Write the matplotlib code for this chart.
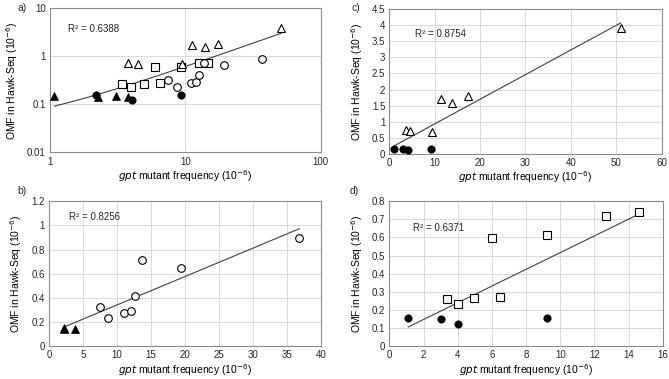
import numpy as np
import matplotlib as mpl
import matplotlib.pyplot as plt

mpl.rcParams.update({
    "font.family": ["Liberation Sans", "DejaVu Sans"],
    "font.size": 7,
    "text.color": "#262626",
    "xtick.color": "#262626",
    "ytick.color": "#262626",
})

# panel b: open circles / filled triangles
b_circ_x = [7.45, 8.75, 11.0, 12.0, 12.65, 13.65, 19.4, 36.8]
b_circ_y = [0.328, 0.232, 0.272, 0.293, 0.415, 0.710, 0.650, 0.893]
b_tri_x = [2.15, 2.25, 3.8]
b_tri_y = [0.153, 0.142, 0.140]

# panel c: open triangles / filled circles
c_tri_x = [3.75, 4.5, 9.4, 11.3, 13.9, 17.4, 51.0]
c_tri_y = [0.74, 0.70, 0.68, 1.71, 1.57, 1.80, 3.90]
c_dot_x = [1.1, 3.0, 4.0, 9.2]
c_dot_y = [0.155, 0.15, 0.12, 0.16]

# panel d: open squares / filled circles
d_sq_x = [3.4, 4.0, 4.95, 6.0, 6.45, 9.25, 12.7, 14.6]
d_sq_y = [0.262, 0.232, 0.268, 0.598, 0.272, 0.612, 0.718, 0.740]
d_dot_x = [1.1, 3.0, 4.0, 9.2]
d_dot_y = [0.155, 0.153, 0.123, 0.158]

# panel a: everything on log axes (filled marks as they appear there)
a_ftri_x = [1.08, 2.25, 3.07, 3.8]
a_ftri_y = [0.152, 0.142, 0.149, 0.140]
a_fdot_x = [2.2, 4.07, 9.3]
a_fdot_y = [0.157, 0.121, 0.158]

r2_text = {"a": "R² = 0.6388", "b": "R² = 0.8256",
           "c": "R² = 0.8754", "d": "R² = 0.6371"}

XLABEL = r"$\it{gpt}$ mutant frequency (10$^{-6}$)"
YLABEL = "OMF in Hawk-Seq (10$^{-6}$)"

GRID = "#d9d9d9"
FRAME = "#8c8c8c"
LINE = "#404040"


def style_axes(ax, xpad=1):
    ax.grid(True, color=GRID, linewidth=0.7)
    ax.set_axisbelow(True)
    ax.tick_params(length=0, pad=3, labelsize=7)
    for s in ax.spines.values():
        s.set_color(FRAME)
        s.set_linewidth(0.8)
    ax.set_xlabel(XLABEL, fontsize=7.5, labelpad=xpad)
    ax.set_ylabel(YLABEL, fontsize=7.5, labelpad=5)


def open_mark(ax, x, y, m, ms=5.5):
    ax.plot(x, y, m, ms=ms, mfc="white", mec="black", mew=0.8, ls="none", zorder=3)


def fill_mark(ax, x, y, m, ms=5.3):
    ax.plot(x, y, m, ms=ms, mfc="black", mec="black", mew=0.5, ls="none", zorder=3)


def trend(ax, xs, ys, n=200):
    xs = np.asarray(xs, float)
    ys = np.asarray(ys, float)
    k, c = np.polyfit(xs, ys, 1)
    xx = np.linspace(xs.min(), xs.max(), n)
    ax.plot(xx, k * xx + c, color=LINE, lw=0.8, zorder=2)


fig = plt.figure(figsize=(6.69, 3.79), dpi=100)

pos = {
    "a": [0.0747, 0.598, 0.4046, 0.380],
    "c": [0.582, 0.594, 0.407, 0.382],
    "b": [0.0732, 0.0863, 0.4066, 0.383],
    "d": [0.582, 0.0863, 0.4087, 0.383],
}

# ---- a) log-log, all data
ax = fig.add_axes(pos["a"])
open_mark(ax, d_sq_x, d_sq_y, "s")
open_mark(ax, b_circ_x, b_circ_y, "o")
open_mark(ax, c_tri_x, c_tri_y, "^")
fill_mark(ax, a_ftri_x, a_ftri_y, "^")
fill_mark(ax, a_fdot_x, a_fdot_y, "o")
all_x = d_sq_x + b_circ_x + c_tri_x + a_ftri_x + a_fdot_x
all_y = d_sq_y + b_circ_y + c_tri_y + a_ftri_y + a_fdot_y
ax.set_xscale("log")
ax.set_yscale("log")
trend(ax, all_x, all_y)
ax.set_xlim(1, 100)
ax.set_ylim(0.01, 10)
ax.set_xticks([1, 10, 100], ["1", "10", "100"])
ax.set_yticks([0.01, 0.1, 1, 10], ["0.01", "0.1", "1", "10"])
ax.minorticks_off()
style_axes(ax)
ax.text(0.066, 0.856, r2_text["a"], transform=ax.transAxes, va="center", fontsize=7)

# ---- b)
ax = fig.add_axes(pos["b"])
open_mark(ax, b_circ_x, b_circ_y, "o")
fill_mark(ax, b_tri_x, b_tri_y, "^")
trend(ax, b_tri_x + b_circ_x, b_tri_y + b_circ_y)
ax.set_xlim(0, 40)
ax.set_ylim(0, 1.2)
ax.set_xticks(np.arange(0, 41, 5))
ax.set_yticks([0, 0.2, 0.4, 0.6, 0.8, 1.0, 1.2], ["0", "0.2", "0.4", "0.6", "0.8", "1", "1.2"])
style_axes(ax, xpad=1.5)
ax.text(0.074, 0.89, r2_text["b"], transform=ax.transAxes, va="center", fontsize=7)

# ---- c)
ax = fig.add_axes(pos["c"])
open_mark(ax, c_tri_x, c_tri_y, "^")
fill_mark(ax, c_dot_x, c_dot_y, "o")
trend(ax, c_dot_x + c_tri_x, c_dot_y + c_tri_y)
ax.set_xlim(0, 60)
ax.set_ylim(0, 4.5)
ax.set_xticks(np.arange(0, 61, 10))
ax.set_yticks(np.arange(0, 4.51, 0.5), ["0", "0.5", "1", "1.5", "2", "2.5", "3", "3.5", "4", "4.5"])
style_axes(ax)
ax.text(0.094, 0.83, r2_text["c"], transform=ax.transAxes, va="center", fontsize=7)

# ---- d)
ax = fig.add_axes(pos["d"])
open_mark(ax, d_sq_x, d_sq_y, "s")
fill_mark(ax, d_dot_x, d_dot_y, "o")
trend(ax, d_dot_x + d_sq_x, d_dot_y + d_sq_y)
ax.set_xlim(0, 16)
ax.set_ylim(0, 0.8)
ax.set_xticks(np.arange(0, 17, 2))
ax.set_yticks(np.arange(0, 0.81, 0.1), ["0", "0.1", "0.2", "0.3", "0.4", "0.5", "0.6", "0.7", "0.8"])
style_axes(ax, xpad=1.5)
ax.text(0.087, 0.814, r2_text["d"], transform=ax.transAxes, va="center", fontsize=7)

for lab, (x, y) in {"a)": (18, 8), "c)": (352, 8), "b)": (17, 191), "d)": (350, 191)}.items():
    fig.text(x / 669, 1 - y / 379, lab, fontsize=7.5, va="center", ha="left")

fig.savefig("out.png", dpi=100)
